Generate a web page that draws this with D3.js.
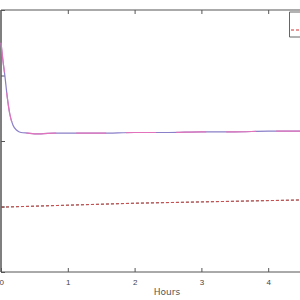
<!DOCTYPE html>
<html>
<head>
<meta charset="utf-8">
<script src="https://cdn.jsdelivr.net/npm/d3@7"></script>
<style>
  body { margin: 0; background: #fff; }
  svg { display: block; font-family: "DejaVu Sans", sans-serif; }
</style>
</head>
<body>
<div id="chart"></div>
<script>
// dimensions of the visible window
const width = 300, height = 300;
const plotLeft = 1, plotTop = 10, plotBottom = 272;

// data (hours, value)
const hours = [0, 0.03, 0.06, 0.09, 0.13, 0.18, 0.24, 0.3, 0.4, 0.5, 0.6, 0.8, 1.0, 1.5, 2.0, 2.5, 3.0, 3.5, 4.0, 4.5];
const solidValues = [3.5, 3.22, 2.98, 2.7, 2.42, 2.24, 2.16, 2.13, 2.12, 2.11, 2.11, 2.12, 2.12, 2.12, 2.13, 2.13, 2.14, 2.14, 2.15, 2.15];
const dashedHours = [0, 1, 2, 3, 4, 4.5];
const dashedValues = [0.99, 1.02, 1.05, 1.07, 1.09, 1.1];
const xTicks = [0, 1, 2, 3, 4];
const yTicks = [0, 1, 2, 3, 4];

const x = d3.scaleLinear().domain([0, 1]).range([plotLeft, plotLeft + 66.8]);
const y = d3.scaleLinear().domain([0, 4]).range([plotBottom, plotTop]);

const svg = d3.select("#chart").append("svg").attr("width", width).attr("height", height);

// frame
svg.append("line").attr("x1", plotLeft).attr("x2", width).attr("y1", plotTop).attr("y2", plotTop)
    .attr("stroke", "#aaa").attr("stroke-width", 2);
svg.append("line").attr("x1", plotLeft).attr("x2", plotLeft).attr("y1", plotTop).attr("y2", plotBottom)
    .attr("stroke", "#555").attr("stroke-width", 1.5);

// bottom axis
const xAxis = svg.append("g").attr("transform", `translate(0,${plotBottom})`)
    .call(d3.axisBottom(x).tickValues(xTicks).tickSize(-4).tickPadding(7).tickFormat(d3.format("d")));
xAxis.select(".domain").attr("d", `M${plotLeft},0H${width}`).attr("stroke", "#555");
xAxis.selectAll(".tick line").attr("stroke", "#555");
xAxis.selectAll("text").attr("fill", "#444").style("font-size", "8px");
xAxis.selectAll(".tick text").filter(d => d === 0).attr("text-anchor", "start").attr("dx", -2);

// top ticks
svg.append("g").attr("transform", `translate(0,${plotTop})`)
    .call(d3.axisTop(x).tickValues(xTicks.slice(1)).tickSize(-4).tickFormat(""))
    .call(g => g.select(".domain").remove())
    .selectAll(".tick line").attr("stroke", "#555");

// left ticks (their labels are outside the window in the reference)
svg.append("g").attr("transform", `translate(${plotLeft},0)`)
    .call(d3.axisLeft(y).tickValues(yTicks).tickSize(-4).tickFormat(""))
    .call(g => g.select(".domain").remove())
    .selectAll(".tick line").attr("stroke", "#555");

svg.append("text").attr("x", 167).attr("y", 295).attr("text-anchor", "middle")
    .attr("fill", "#555").style("font-size", "9px").text("Hours");

// series
const solid = d3.line().x((d, i) => x(hours[i])).y(d => y(d)).curve(d3.curveMonotoneX);
const dashed = d3.line().x((d, i) => x(dashedHours[i])).y(d => y(d));

svg.append("path").datum(solidValues).attr("d", solid)
    .attr("fill", "none").attr("stroke", "#8a7fc8").attr("stroke-width", 1.2);
svg.append("path").datum(solidValues).attr("d", solid)
    .attr("fill", "none").attr("stroke", "#f070b8").attr("stroke-width", 1.2)
    .attr("stroke-dasharray", "30,20").attr("opacity", 0.85);

svg.append("path").datum(dashedValues).attr("d", dashed)
    .attr("fill", "none").attr("stroke", "#444").attr("stroke-width", 1)
    .attr("stroke-dasharray", "3,2");
svg.append("path").datum(dashedValues).attr("d", dashed)
    .attr("fill", "none").attr("stroke", "#e85050").attr("stroke-width", 1)
    .attr("stroke-dasharray", "3,2")
    .attr("opacity", 0.85);

// legend box
svg.append("path").attr("d", "M300,12H289.5V37H300")
    .attr("fill", "#fff").attr("stroke", "#666").attr("stroke-width", 1);
svg.append("line").attr("x1", 291).attr("x2", 300).attr("y1", 30).attr("y2", 30)
    .attr("stroke", "#d03030").attr("stroke-width", 1).attr("stroke-dasharray", "3,2");
</script>
</body>
</html>
